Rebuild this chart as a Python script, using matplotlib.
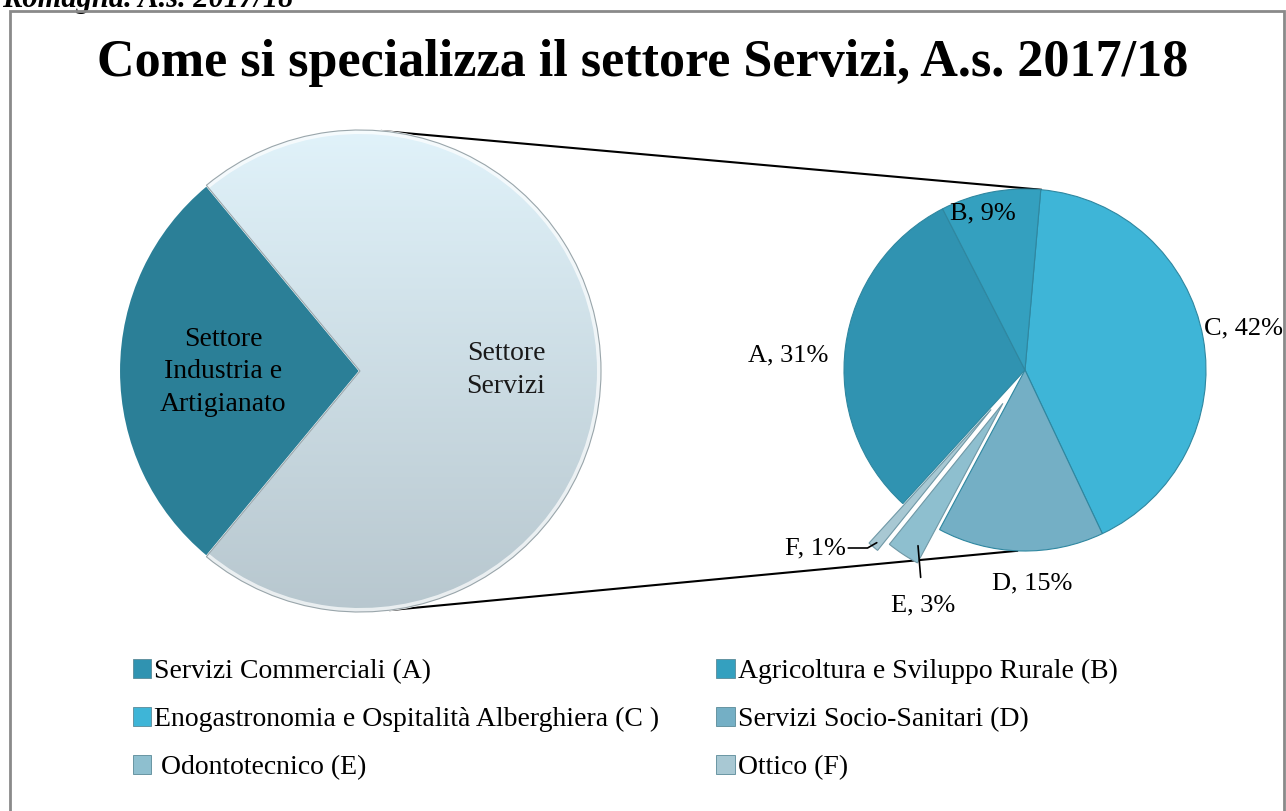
import matplotlib
matplotlib.use('Agg')
import matplotlib.pyplot as plt
import matplotlib.patches as patches
import numpy as np

# --- Data ---
top_labels = ['Settore\nServizi', 'Settore\nIndustria e\nArtigianato']
top_share = [72, 28]

sub_codes = ['A', 'B', 'C', 'D', 'E', 'F']
sub_names = ['Servizi Commerciali (A)', 'Agricoltura e Sviluppo Rurale (B)',
             'Enogastronomia e Ospitalità Alberghiera (C )', 'Servizi Socio-Sanitari (D)',
             ' Odontotecnico (E)', 'Ottico (F)']
sub_share = [31, 9, 42, 15, 3, 1]

# --- Style ---
W, H = 1286, 811
SERIF = ['Liberation Serif', 'DejaVu Serif']
sub_colors = {'A': '#3093b1', 'B': '#34a0bf', 'C': '#3eb5d7',
              'D': '#74afc5', 'E': '#8ebfcf', 'F': '#a8c8d3'}
ind_color = '#2b7f97'
draw_order = ['C', 'D', 'E', 'F', 'A', 'B']   # clockwise from the top connector
explode_px = {'E': 40, 'F': 52}

plt.rcParams['font.family'] = SERIF

fig = plt.figure(figsize=(W / 100, H / 100), dpi=100)
ax = fig.add_axes([0, 0, 1, 1])

# left pie (pixel coords, y up)
lc, lr = (360, H - 371), 241
ls = -top_share[0] / sum(top_share) * 180
lw, _ = ax.pie(top_share, colors=['#d6e8f0', ind_color], startangle=ls,
               center=lc, radius=lr, frame=True,
               wedgeprops=dict(edgecolor='white', linewidth=1.5))

# light gradient on the Servizi slice
grad = np.linspace(0, 1, 256)[:, None]
top_rgb = np.array([0.88, 0.95, 0.98])
bot_rgb = np.array([0.72, 0.78, 0.81])
img = top_rgb * (1 - grad[..., None]) + bot_rgb * grad[..., None]
im = ax.imshow(img, extent=(lc[0] - lr, lc[0] + lr, lc[1] - lr, lc[1] + lr),
               aspect='auto', zorder=1.5, origin='upper')
im.set_clip_path(lw[0])
ax.add_patch(patches.Wedge(lc, lr, lw[0].theta1, lw[0].theta2, width=4,
                           facecolor='white', edgecolor='none', alpha=0.7, zorder=1.6))
ax.add_patch(patches.Wedge(lc, lr, lw[0].theta1, lw[0].theta2, fill=False,
                           edgecolor='#9aa6ab', linewidth=0.8, zorder=1.7))

ax.text(506, H - 370, top_labels[0], ha='center', va='center', fontsize=20,
        color='#1a1a1a', linespacing=1.38, zorder=3)
ax.text(223, H - 372, top_labels[1], ha='center', va='center', fontsize=20,
        color='black', linespacing=1.38, zorder=3)

# right pie
rc, rr = (1025, H - 370), 181
vals = [sub_share[sub_codes.index(c)] for c in draw_order]
rs = 85
rw, _ = ax.pie(vals, colors=[sub_colors[c] for c in draw_order],
               explode=[explode_px.get(c, 0) for c in draw_order],
               startangle=rs, counterclock=False, center=rc, radius=rr, frame=True,
               wedgeprops=dict(edgecolor='#2f87a0', linewidth=0.8))
for c in ('E', 'F'):
    rw[draw_order.index(c)].set_edgecolor('#6f98a6')

# connector lines (drawn under the pies)
def on_circle(c, r, ang):
    a = np.deg2rad(ang)
    return c[0] + r * np.cos(a), c[1] + r * np.sin(a)

p1 = on_circle(lc, lr, 84.8)
p2 = on_circle(rc, rr, rs)
p3 = on_circle(lc, lr, -82.8)
p4 = on_circle(rc, rr, -92.5)
ax.plot([p1[0], p2[0]], [p1[1], p2[1]], color='black', lw=1.5, zorder=0.5)
ax.plot([p3[0], p4[0]], [p3[1], p4[1]], color='black', lw=1.5, zorder=0.5)

# data labels
wedge_of = dict(zip(draw_order, rw))
lab_pos = {'A': (788, 355), 'B': (983, 213), 'C': (1243, 328), 'D': (1032, 583)}
for c, (x, y) in lab_pos.items():
    share = sub_share[sub_codes.index(c)]
    ax.text(x, H - y, f'{c}, {share}%', ha='center', va='center', fontsize=19, zorder=5)

def tip(c, frac=0.97):
    w = wedge_of[c]
    mid = (w.theta1 + w.theta2) / 2
    return on_circle(w.center, w.r * frac, mid)

e_txt = (923, H - 605)
ax.annotate(f"E, {sub_share[4]}%", xy=(e_txt[0] - 5, tip('E')[1] + 4),
            xytext=e_txt, ha='center', va='center', fontsize=19,
            arrowprops=dict(arrowstyle='-', lw=1.2, color='black',
                            shrinkA=10, shrinkB=0), zorder=5)
ax.annotate(f"F, {sub_share[5]}%", xy=tip('F'),
            xytext=(815, H - 548), ha='center', va='center', fontsize=19,
            arrowprops=dict(arrowstyle='-', lw=1.2, color='black',
                            connectionstyle='angle,angleA=0,angleB=30,rad=0',
                            shrinkA=30, shrinkB=0), zorder=5)

# title and header
ax.text(W / 2, H - 63, 'Come si specializza il settore Servizi, A.s. 2017/18',
        ha='center', va='center', fontsize=37.5, fontweight='bold')
ax.text(2, H - 7, 'Romagna. A.s. 2017/18', ha='left', va='baseline',
        fontsize=22, fontweight='bold', fontstyle='italic')

# frame
ax.add_patch(patches.Rectangle((10, -20), 1274, H - 11 + 20, fill=False,
                               edgecolor='#8a8a8a', linewidth=2, zorder=6))

# legend (column-wise fill: A, C, E | B, D, F)
leg_order = ['A', 'C', 'E', 'B', 'D', 'F']
handles = [patches.Patch(facecolor=sub_colors[c], edgecolor='#5a8a98', linewidth=0.6,
                         label=sub_names[sub_codes.index(c)]) for c in leg_order]
ax.legend(handles=handles, ncol=2, loc='upper left', bbox_to_anchor=(133, H - 659),
          bbox_transform=ax.transData, frameon=False, fontsize=20,
          handlelength=0.65, handleheight=0.65, handletextpad=0.12,
          labelspacing=0.83, columnspacing=2.05, borderpad=0, borderaxespad=0)

ax.set_xlim(0, W)
ax.set_ylim(0, H)
ax.set_aspect('equal')
ax.axis('off')

fig.savefig('out.png', dpi=100)
